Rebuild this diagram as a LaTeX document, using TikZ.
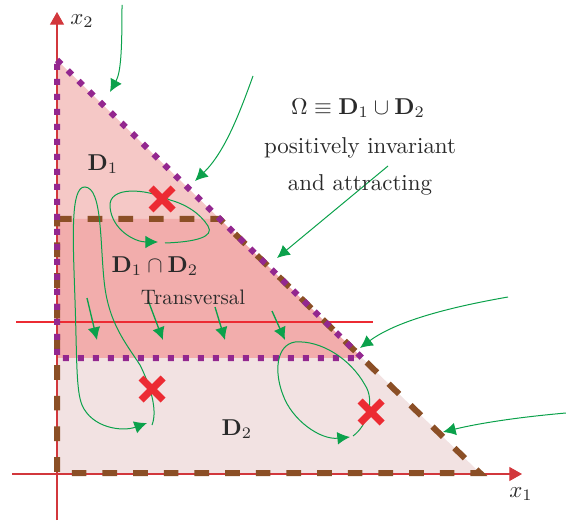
\documentclass[tikz,border=0pt]{standalone}
\usetikzlibrary{arrows.meta,calc}
\definecolor{cPurple}{HTML}{93278F}
\definecolor{cBrown}{HTML}{8B4F26}
\definecolor{cFillA}{HTML}{F5C8C6}
\definecolor{cFillB}{HTML}{F2ADAC}
\definecolor{cFillC}{HTML}{F2E2E2}
\definecolor{cAxis}{HTML}{D2373C}
\definecolor{cRed}{HTML}{EC2B33}
\definecolor{cGreen}{HTML}{0BA14B}
\definecolor{cText}{HTML}{2A2A2A}
\tikzset{
  axisline/.style={cAxis, line width=0.8pt, -{Triangle[length=9.5pt,width=10.5pt]}},
  purpledot/.style={cPurple, line width=4.5pt, dash pattern=on 4.5pt off 6.75pt},
  browndash/.style={cBrown, line width=4.5pt, dash pattern=on 11pt off 12pt},
  traj/.style={cGreen, line width=0.75pt},
  trajarr/.style={traj, -{Latex[length=9.5pt,width=9.5pt]}},
  shortarr/.style={cGreen, line width=1pt, -{Latex[length=9.5pt,width=9.5pt]}},
  transline/.style={cRed, line width=2.2pt},
  crossline/.style={cRed, line width=5.3pt},
  bigtxt/.style={text=cText, font=\fontsize{10}{12}\selectfont, inner sep=0pt, scale=1.72, transform shape},
  midtxt/.style={text=cText, font=\fontsize{10}{12}\selectfont, inner sep=0pt, scale=1.57, transform shape},
  xmark/.pic={\draw[crossline] (-11,-11) -- (11,11) (-11,11) -- (11,-11);}
}
\begin{document}
\begin{tikzpicture}[x=0.75pt,y=-0.75pt]
\useasboundingbox (0,0) rectangle (566,523);
% key points
\coordinate (A) at (57,60);
\coordinate (B) at (480,473);
\coordinate (O) at (57,473);
\coordinate (P1) at (219.8,219);
\coordinate (P2) at (362.2,358);
\coordinate (L1) at (57,219);
\coordinate (L2) at (57,358);
% fills
\fill[cFillA] (A) -- (P1) -- (L1) -- cycle;
\fill[cFillB] (L1) -- (P1) -- (P2) -- (L2) -- cycle;
\fill[cFillC] (L2) -- (P2) -- (B) -- (O) -- cycle;
% axes
\coordinate (yb) at (57,520);
\coordinate (yt) at (57,12);
\coordinate (xl) at (12,474);
\coordinate (xr) at (522,474);
\draw[axisline] (yb) -- (yt);
\draw[axisline] (xl) -- (xr);
\node[bigtxt] (x2) at (82,21) {$x_2$};
\node[bigtxt] (x1) at (521,494) {$x_1$};
% transversal
\coordinate (tl) at (16,322);
\coordinate (tr) at (373,322);
\draw[transline] (tl) -- (tr);
% region boundaries
\draw[browndash] (L1) -- (P1) -- (B) -- (O) -- cycle;
\draw[purpledot] (A) -- (P2) -- (L2) -- cycle;
% external trajectories
\coordinate (g1s) at (122,5);   \coordinate (g1e) at (110,92);
\coordinate (g2s) at (253,76);  \coordinate (g2e) at (195,181);
\coordinate (g3s) at (388,166); \coordinate (g3e) at (277,258);
\coordinate (g4s) at (508,297); \coordinate (g4e) at (360,348);
\coordinate (g5s) at (566,413); \coordinate (g5e) at (443,432);
\draw[trajarr] (g1s) .. controls (122,50) and (121,72) .. (g1e);
\draw[trajarr] (g2s) .. controls (240,112) and (225,152) .. (g2e);
\draw[trajarr] (g3s) -- (g3e);
\draw[trajarr] (g4s) .. controls (445,308) and (395,322) .. (g4e);
\draw[trajarr] (g5s) .. controls (520,417) and (480,423) .. (g5e);
% transversal arrows
\coordinate (s1s) at (87,298);  \coordinate (s1e) at (97,340);
\coordinate (s2s) at (148,300); \coordinate (s2e) at (163,340);
\coordinate (s3s) at (215,307); \coordinate (s3e) at (225,340);
\coordinate (s4s) at (272,311); \coordinate (s4e) at (285,340);
\draw[shortarr] (s1s) -- (s1e);
\draw[shortarr] (s2s) -- (s2e);
\draw[shortarr] (s3s) -- (s3e);
\draw[shortarr] (s4s) -- (s4e);
% loop A (around upper cross)
\coordinate (a0) at (170,200);
\coordinate (a1) at (158,242);
\coordinate (a2) at (165,243);
\draw[trajarr] (a0) .. controls (145,188) and (108,186) .. (110,207)
  .. controls (112,230) and (135,242) .. (a1);
\draw[traj] (a2) .. controls (195,242) and (215,237) .. (208,226)
  .. controls (200,213) and (185,204) .. (a0);
% loop B (long loop on the left)
\coordinate (b0) at (152,425);
\coordinate (b1) at (147,423);
\draw[trajarr] (b0) .. controls (158,410) and (150,385) .. (140,365)
  .. controls (125,342) and (108,322) .. (104,280)
  .. controls (100,240) and (102,188) .. (85,187)
  .. controls (70,186) and (73,240) .. (75,300)
  .. controls (77,360) and (76,390) .. (82,405)
  .. controls (92,428) and (122,432) .. (b1);
% loop C (lower right)
\coordinate (c0) at (353,436);
\coordinate (c1) at (350,437);
\draw[trajarr] (c0) .. controls (368,425) and (375,400) .. (365,385)
  .. controls (350,358) and (320,340) .. (295,342)
  .. controls (276,345) and (274,372) .. (283,395)
  .. controls (292,420) and (320,440) .. (c1);
% equilibria
\pic (q1) at (162,199) {xmark};
\pic (q2) at (152,389) {xmark};
\pic (q3) at (371,412) {xmark};
% labels
\node[bigtxt] (tD1) at (103,164) {$\mathbf{D}_1$};
\node[bigtxt] (tD12) at (155,266) {$\mathbf{D}_1\cap\mathbf{D}_2$};
\node[midtxt] (tTr) at (193,297) {Transversal};
\node[bigtxt] (tD2) at (237,429) {$\mathbf{D}_2$};
\node[bigtxt] (tOm) at (358,108) {$\Omega\equiv\mathbf{D}_1\cup\mathbf{D}_2$};
\node[bigtxt] (tPos) at (360,148) {positively invariant};
\node[bigtxt] (tAtt) at (360,185) {and attracting};
\end{tikzpicture}
\end{document}
